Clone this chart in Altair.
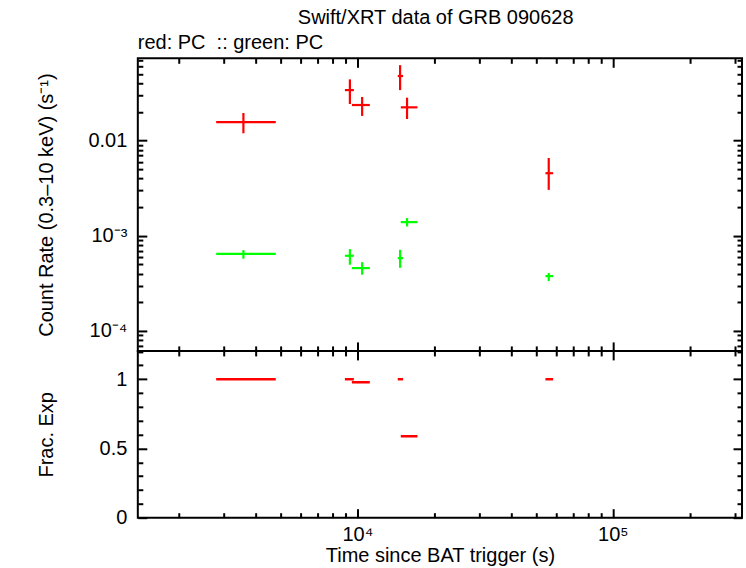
import altair as alt
import pandas as pd

FONT = "Liberation Sans"

# ---- data ----
t_mid = [3580, 9348, 10440, 14700, 15650, 56130]
t_lo = [2801, 8937, 9517, 14390, 14790, 54490]
t_hi = [4793, 9690, 11190, 15100, 17190, 58400]

red_rate = [0.0157, 0.0340, 0.0237, 0.0478, 0.0224, 0.00455]
red_lo = [0.01196, 0.0243, 0.0182, 0.0340, 0.0169, 0.00304]
red_hi = [0.01953, 0.0441, 0.0288, 0.0622, 0.0283, 0.00658]

green_rate = [6.47e-4, 6.17e-4, 4.58e-4, 5.83e-4, 1.393e-3, 3.77e-4]
green_lo = [5.74e-4, 4.96e-4, 3.90e-4, 4.61e-4, 1.253e-3, 3.35e-4]
green_hi = [7.08e-4, 7.25e-4, 5.29e-4, 7.13e-4, 1.535e-3, 4.07e-4]

frac_exp = [1.0, 1.0, 0.978, 1.0, 0.588, 1.0]

# ---- axes / ticks ----
x_domain = [1382, 320500]
y_domain = [6.17e-5, 0.0734]
f_domain = [0, 1.2045]

x_major = [1e4, 1e5]
x_major_labels = ["10\u2074", "10\u2075"]
x_minor = [2000, 3000, 4000, 5000, 6000, 7000, 8000, 9000,
           20000, 30000, 40000, 50000, 60000, 70000, 80000, 90000,
           200000, 300000]
y_major = [1e-4, 1e-3, 1e-2]
y_major_labels = ["10\u207b\u2074", "10\u207b\u00b3", "0.01"]
y_minor = [7e-5, 8e-5, 9e-5,
           2e-4, 3e-4, 4e-4, 5e-4, 6e-4, 7e-4, 8e-4, 9e-4,
           2e-3, 3e-3, 4e-3, 5e-3, 6e-3, 7e-3, 8e-3, 9e-3,
           2e-2, 3e-2, 4e-2, 5e-2, 6e-2, 7e-2]
f_major = [0, 0.5, 1]
f_major_labels = ["0", "0.5", "1"]
f_minor = [0.1, 0.2, 0.3, 0.4, 0.6, 0.7, 0.8, 0.9, 1.1, 1.2]

title_main = "Swift/XRT data of GRB 090628"
title_sub = "red: PC\u00a0 :: green: PC"
x_title = "Time since BAT trigger (s)"
y_title = "Count Rate (0.3\u201310 keV) (s\u207b\u00b9)"
f_title = "Frac. Exp"

MAJ = 9
MIN = 5
W = 605
H_TOP = 293
H_BOT = 167

rate_df = pd.DataFrame({
    "t": t_mid * 2, "tlo": t_lo * 2, "thi": t_hi * 2,
    "rate": red_rate + green_rate,
    "lo": red_lo + green_lo,
    "hi": red_hi + green_hi,
    "series": ["red"] * len(t_mid) + ["green"] * len(t_mid),
})
frac_df = pd.DataFrame({"t": t_mid, "tlo": t_lo, "thi": t_hi, "frac": frac_exp})


def label_expr(values, labels):
    expr = "''"
    for v, l in zip(values, labels):
        tol = max(abs(v) * 1e-6, 1e-9)
        expr = f"abs(datum.value - {v!r}) < {tol!r} ? '{l}' : (" + expr + ")"
    return expr


def axis(values, size, orient, labels=False, lexpr=None, title=None, title_x=None, pad=10, title_pad=None):
    kw = dict(values=values, orient=orient, tickSize=size, offset=-size,
              domain=False, grid=False, ticks=True, tickColor="black",
              tickWidth=2, labels=labels, title=title)
    if labels:
        kw["labelPadding"] = pad
        kw["labelExpr"] = lexpr
        kw["labelFont"] = FONT
        kw["labelFontSize"] = 20
        kw["labelColor"] = "black"
    if title is not None:
        kw["titleFont"] = FONT
        kw["titleFontSize"] = 20
        kw["titleFontWeight"] = "normal"
        kw["titleColor"] = "black"
        if title_x is not None:
            kw["titleX"] = title_x
            kw["titleBaseline"] = "middle"
        if title_pad is not None:
            kw["titlePadding"] = title_pad
    return alt.Axis(**kw)


xs = alt.Scale(type="log", domain=x_domain, nice=False)
ys = alt.Scale(type="log", domain=y_domain, nice=False)
fs = alt.Scale(type="linear", domain=f_domain, nice=False, zero=False)
cs = alt.Scale(domain=["red", "green"], range=["#ff0000", "#00ff00"])

TITLE_X = -91.5 - MAJ

# ---------- top panel ----------
base_top = alt.Chart(rate_df)
hbar = base_top.mark_rule(strokeWidth=2.2).encode(
    x=alt.X("tlo:Q", scale=xs, axis=None), x2="thi:Q",
    y=alt.Y("rate:Q", scale=ys, axis=None),
    color=alt.Color("series:N", scale=cs, legend=None))
vbar = base_top.mark_rule(strokeWidth=2.2).encode(
    x=alt.X("t:Q", scale=xs, axis=None),
    y=alt.Y("lo:Q", scale=ys, axis=None), y2="hi:Q",
    color=alt.Color("series:N", scale=cs, legend=None))


def ghost(df, yfield, yscale, xa, ya):
    return alt.Chart(df).mark_point(opacity=0).encode(
        x=alt.X("t:Q", scale=xs, axis=xa),
        y=alt.Y(yfield, scale=yscale, axis=ya))


top_layers = [
    hbar, vbar,
    ghost(rate_df, "rate:Q", ys,
          axis(x_major, MAJ, "bottom"),
          axis(y_major, MAJ, "left", labels=True,
               lexpr=label_expr(y_major, y_major_labels), pad=11,
               title=y_title, title_x=TITLE_X)),
    ghost(rate_df, "rate:Q", ys, axis(x_minor, MIN, "bottom"), axis(y_minor, MIN, "left")),
    ghost(rate_df, "rate:Q", ys, axis(x_major, MAJ, "top"), axis(y_major, MAJ, "right")),
    ghost(rate_df, "rate:Q", ys, axis(x_minor, MIN, "top"), axis(y_minor, MIN, "right")),
]
top = alt.layer(*top_layers).resolve_axis(x="independent", y="independent").properties(
    width=W, height=H_TOP,
    title=alt.TitleParams(title_sub, anchor="start", frame="group", fontSize=20,
                          font=FONT, fontWeight="normal", color="black", offset=4))

# ---------- bottom panel ----------
fbar = alt.Chart(frac_df).mark_rule(strokeWidth=2.5, color="#ff0000").encode(
    x=alt.X("tlo:Q", scale=xs, axis=None), x2="thi:Q",
    y=alt.Y("frac:Q", scale=fs, axis=None))

bot_layers = [
    fbar,
    ghost(frac_df, "frac:Q", fs,
          axis(x_major, MAJ, "bottom", labels=True,
               lexpr=label_expr(x_major, x_major_labels), pad=7,
               title=x_title, title_pad=1),
          axis(f_major, MAJ, "left", labels=True,
               lexpr=label_expr(f_major, f_major_labels), pad=11,
               title=f_title, title_x=TITLE_X)),
    ghost(frac_df, "frac:Q", fs, axis(x_minor, MIN, "bottom"), axis(f_minor, MIN, "left")),
    ghost(frac_df, "frac:Q", fs, axis(x_major, MAJ, "top"), axis(f_major, MAJ, "right")),
    ghost(frac_df, "frac:Q", fs, axis(x_minor, MIN, "top"), axis(f_minor, MIN, "right")),
]
bottom = alt.layer(*bot_layers).resolve_axis(x="independent", y="independent").properties(
    width=W, height=H_BOT)

chart = alt.vconcat(top, bottom, spacing=0, bounds="flush").properties(
    title=alt.TitleParams(title_main, anchor="middle", fontSize=20, font=FONT,
                          fontWeight="normal", color="black", dx=46),
    padding={"left": 35, "top": 8, "right": 2, "bottom": 2},
    background="white",
).configure_view(stroke="black", strokeWidth=2)

chart.save("out.html", embed_options={"renderer": "svg", "actions": False})
